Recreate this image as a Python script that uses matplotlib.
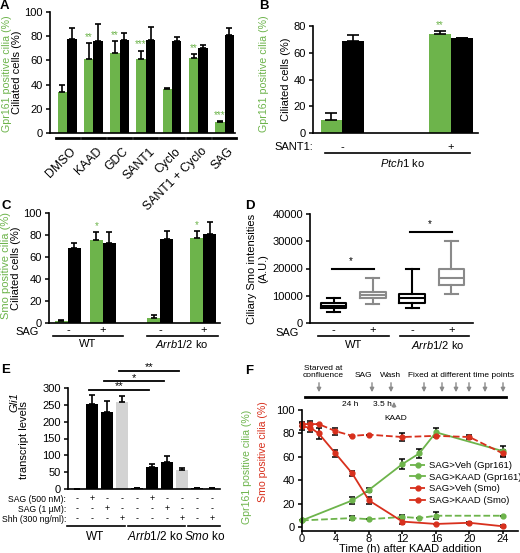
import numpy as np
import matplotlib
matplotlib.use("Agg")
import matplotlib.pyplot as plt
from matplotlib.transforms import blended_transform_factory
from matplotlib.lines import Line2D

plt.rcParams['font.family'] = ['Liberation Sans', 'DejaVu Sans']
plt.rcParams['font.size'] = 8
plt.rcParams['mathtext.fontset'] = 'custom'
plt.rcParams['mathtext.it'] = 'Liberation Sans:italic'
plt.rcParams['mathtext.rm'] = 'Liberation Sans'
plt.rcParams['axes.linewidth'] = 1.2
plt.rcParams['xtick.major.width'] = 1.1
plt.rcParams['ytick.major.width'] = 1.1
plt.rcParams['ytick.major.size'] = 3
plt.rcParams['xtick.major.size'] = 3
plt.rcParams['ytick.major.pad'] = 2

GREEN = '#6db44b'
RED = '#d8301d'
LGREY = '#d3d3d3'
GREY = '#8a8a8a'

W, H = 520, 553

# ---- panel A data
a_labels = ['DMSO', 'KAAD', 'GDC', 'SANT1', 'Cyclo', 'SANT1 + Cyclo', 'SAG']
a_gpr = [34, 61, 66, 61, 36, 62, 9]
a_gpr_err = [6, 13, 10, 7, 1, 3, 1]
a_cil = [78, 76, 77, 77, 76, 70, 81]
a_cil_err = [9, 14, 6, 11, 3, 3, 6]
a_stars = ['', '**', '**', '***', '', '**', '***']

# ---- panel B data
b_sant1 = ['-', '+']
b_gpr = [10, 74]
b_gpr_err = [5, 2]
b_cil = [69, 71]
b_cil_err = [4, 0]
b_stars = ['', '**']

# ---- panel C data
c_sag = ['-', '+', '-', '+']
c_smo = [2, 75, 5, 77]
c_smo_err = [1, 8, 2, 7]
c_cil = [68, 73, 76, 81]
c_cil_err = [5, 10, 8, 11]
c_stars = ['', '*', '', '*']

# ---- panel D data (box stats)
d_sag = ['-', '+', '-', '+']
d_whislo = [4000, 7000, 5500, 10500]
d_q1 = [5500, 9000, 7500, 14000]
d_med = [6300, 10300, 9000, 16500]
d_q3 = [7500, 11500, 10500, 20000]
d_whishi = [9000, 16500, 20000, 30000]
d_sig_y = [20000, 33500]

# ---- panel E data
e_gli1 = [0, 252, 230, 258, 2, 66, 80, 56, 3, 2]
e_gli1_err = [0, 28, 30, 18, 0, 8, 18, 5, 1, 0]
e_sag500 = ['-', '+', '-', '-', '-', '+', '-', '-', '-', '-']
e_sag1 = ['-', '-', '+', '-', '-', '-', '+', '-', '-', '-']
e_shh = ['-', '-', '-', '+', '-', '-', '-', '+', '-', '+']
e_sig = [(1, 5, 294, '**'), (2, 6, 320, '*'), (3, 7, 350, '**')]

# ---- panel F data
f_t_gpr = [0, 6, 8, 12, 14, 16, 24]
f_veh_gpr = [6, 8, 7, 9, 8, 10, 10]
f_veh_gpr_err = [0, 1.5, 0, 2, 0, 3, 0]
f_kaad_gpr = [6, 23, 32, 54, 63, 81, 65]
f_kaad_gpr_err = [0, 3, 2, 4, 4, 4, 4]
f_t_smo = [0, 1, 2, 4, 6, 8, 12, 16, 20, 24]
f_veh_smo = [88, 88, 88, 82, 78, 79, 77, 78, 77, 63]
f_veh_smo_err = [2, 3, 0, 3, 0, 0, 3, 0, 2, 3]
f_kaad_smo = [86, 85, 80, 63, 46, 23, 5, 3, 4, 1]
f_kaad_smo_err = [3, 4, 5, 3, 2, 3, 2, 0, 1, 1]

fig = plt.figure(figsize=(W / 100, H / 100), dpi=100)


def ax_px(x0, y0, x1, y1):
    ax = fig.add_axes([x0 / W, 1 - y1 / H, (x1 - x0) / W, (y1 - y0) / H])
    ax.spines['top'].set_visible(False)
    ax.spines['right'].set_visible(False)
    return ax


def ftext(x, y, s, **kw):
    fig.text(x / W, 1 - y / H, s, **kw)


def dtext(ax, x, ypx, s, **kw):
    tr = blended_transform_factory(ax.transData, fig.transFigure)
    ax.text(x, 1 - ypx / H, s, transform=tr, clip_on=False, **kw)


def dline(ax, x0, x1, ypx, lw=1.5):
    tr = blended_transform_factory(ax.transData, fig.transFigure)
    ax.add_line(Line2D([x0, x1], [1 - ypx / H, 1 - ypx / H], transform=tr,
                       color='black', lw=lw, clip_on=False))


def upper_err(ax, x, y, e, cap=3):
    ax.errorbar(x, y, yerr=[np.zeros(len(e)), e], fmt='none', ecolor='black',
                elinewidth=1.2, capsize=cap, capthick=1.2, zorder=3)


# ================= A
ax = ax_px(50, 12, 235, 133)
xa = np.arange(len(a_labels))
bw = 0.36
ax.bar(xa - bw / 2, a_gpr, bw, color=GREEN, zorder=2)
ax.bar(xa + bw / 2, a_cil, bw, color='black', zorder=2)
upper_err(ax, xa - bw / 2, a_gpr, a_gpr_err, 2.5)
upper_err(ax, xa + bw / 2, a_cil, a_cil_err, 2.5)
for i, s in enumerate(a_stars):
    if s:
        ax.text(xa[i] - bw / 2, a_gpr[i] + a_gpr_err[i] + 1, s, color=GREEN,
                ha='center', va='bottom', fontsize=7)
ax.set_xlim(-0.65, 6.4)
ax.set_ylim(0, 100)
ax.set_yticks(range(0, 101, 20))
ax.set_xticks(xa + 0.1)
ax.set_xticklabels(a_labels, rotation=45, ha='right', rotation_mode='anchor',
                   fontsize=8.8)
ax.tick_params(axis='x', length=0, pad=9)
for i in xa:
    dline(ax, i - 0.44, i + 0.44, 138, lw=2)
ax.set_ylabel('Ciliated cells (%)', labelpad=2)
ftext(7, 74, 'Gpr161 positive cilia (%)', color=GREEN, rotation=90,
      ha='center', va='center', fontsize=7.7)
ftext(0, 0, 'A', fontweight='bold', fontsize=9.5, va='top')

# ================= B
ax = ax_px(313, 26, 478, 133)
xb = np.arange(len(b_sant1))
bw = 0.2
ax.bar(xb - bw / 2, b_gpr, bw, color=GREEN, zorder=2)
ax.bar(xb + bw / 2, b_cil, bw, color='black', zorder=2)
upper_err(ax, xb - bw / 2, b_gpr, b_gpr_err, 4)
upper_err(ax, xb + bw / 2, b_cil, b_cil_err, 4)
for i, s in enumerate(b_stars):
    if s:
        ax.text(xb[i] - bw / 2, b_gpr[i] + b_gpr_err[i] + 1, s, color=GREEN,
                ha='center', va='bottom', fontsize=7)
ax.set_xlim(-0.27, 1.25)
ax.set_ylim(0, 80)
ax.set_yticks(range(0, 81, 20))
ax.set_xticks([])
ax.set_ylabel('Ciliated cells (%)', labelpad=2)
ftext(274, 147, 'SANT1:', ha='left', va='center')
for i, s in enumerate(b_sant1):
    dtext(ax, xb[i], 147, s, ha='center', va='center')
dline(ax, -0.16, 1.18, 153, lw=1.2)
dtext(ax, 0.55, 163, r'$\it{Ptch1}$ ko', ha='center', va='center')
ftext(264, 74, 'Gpr161 positive cilia (%)', color=GREEN, rotation=90,
      ha='center', va='center', fontsize=7.7)
ftext(259, 0, 'B', fontweight='bold', fontsize=9.5, va='top')

# ================= C
ax = ax_px(49, 213, 220, 323)
xc = np.array([0, 1, 2.63, 3.86])
bw = 0.37
ax.bar(xc - bw / 2, c_smo, bw, color=GREEN, zorder=2)
ax.bar(xc + bw / 2, c_cil, bw, color='black', zorder=2)
upper_err(ax, xc - bw / 2, c_smo, c_smo_err, 2.5)
upper_err(ax, xc + bw / 2, c_cil, c_cil_err, 2.5)
for i, s in enumerate(c_stars):
    if s:
        ax.text(xc[i] - bw / 2, c_smo[i] + c_smo_err[i] + 0.5, s, color=GREEN,
                ha='center', va='bottom', fontsize=7)
ax.set_xlim(-0.54, 4.34)
ax.set_ylim(0, 100)
ax.set_yticks(range(0, 101, 20))
ax.set_xticks([])
ax.set_ylabel('Ciliated cells (%)', labelpad=2)
ftext(27, 332, 'SAG', ha='center', va='center')
for i, s in enumerate(c_sag):
    dtext(ax, xc[i], 330, s, ha='center', va='center')
dline(ax, -0.43, 1.57, 336, lw=1.2)
dline(ax, 2.26, 4.29, 336, lw=1.2)
dtext(ax, 0.57, 344, 'WT', ha='center', va='center')
dtext(ax, 3.26, 344, r'$\it{Arrb1/2}$ ko', ha='center', va='center')
ftext(6, 265, 'Smo positive cilia (%)', color=GREEN, rotation=90,
      ha='center', va='center')
ftext(1, 206, 'C', fontweight='bold', fontsize=9.5, va='center')

# ================= D
ax = ax_px(310, 214, 473, 323)
xd = np.arange(len(d_sag))
stats = [dict(med=d_med[i], q1=d_q1[i], q3=d_q3[i], whislo=d_whislo[i],
              whishi=d_whishi[i], fliers=[]) for i in range(len(xd))]
for i, st in enumerate(stats):
    col = 'black' if d_sag[i] == '-' else GREY
    props = dict(color=col, linewidth=1.5)
    ax.bxp([st], positions=[xd[i]], widths=0.65, boxprops=props,
           whiskerprops=props, capprops=props, medianprops=props,
           showfliers=False, manage_ticks=False)
for k, y in enumerate(d_sig_y):
    ax.plot([xd[2 * k] - 0.05, xd[2 * k + 1] + 0.02], [y, y], color='black',
            lw=1.5, clip_on=False)
    ax.text((xd[2 * k] + xd[2 * k + 1]) / 2 - 0.05, y + 800, '*', ha='center',
            va='bottom', fontsize=7)
ax.set_xlim(-0.6, 3.55)
ax.set_ylim(0, 40000)
ax.set_yticks(range(0, 40001, 10000))
ax.set_xticks([])
ax.set_ylabel('Ciliary Smo intensities\n(A.U.)', labelpad=3)
ftext(287, 333, 'SAG', ha='center', va='center')
for i, s in enumerate(d_sag):
    dtext(ax, xd[i], 330, s, ha='center', va='center')
dline(ax, -0.4, 1.4, 336, lw=1.2)
dline(ax, 1.7, 3.45, 336, lw=1.2)
dtext(ax, 0.5, 345, 'WT', ha='center', va='center')
dtext(ax, 2.65, 345, r'$\it{Arrb1/2}$ ko', ha='center', va='center')
ftext(245, 206, 'D', fontweight='bold', fontsize=9.5, va='center')

# ================= E
ax = ax_px(68, 388, 220, 489)
xe = np.arange(len(e_gli1))
e_cols = ['black' if s == '-' else LGREY for s in e_shh]
ax.bar(xe, e_gli1, 0.8, color=e_cols, zorder=2)
upper_err(ax, xe, e_gli1, e_gli1_err, 2.5)
for i, j, y, s in e_sig:
    ax.plot([xe[i] - 0.2, xe[j] - 0.2], [y, y], color='black', lw=1.3,
            clip_on=False)
    ax.text((xe[i] + xe[j]) / 2 - 0.2, y - 4, s, ha='center', va='bottom',
            fontsize=8)
ax.set_xlim(-0.6, 9.5)
ax.set_ylim(0, 300)
ax.set_yticks(range(0, 301, 50))
ax.set_xticks([])
rows = [('SAG (500 nM):', e_sag500, 499), ('SAG (1 µM):', e_sag1, 509),
        ('Shh (300 ng/ml):', e_shh, 519)]
for lab, signs, y in rows:
    ftext(66, y, lab, ha='right', va='center', fontsize=6.2)
    for i, s in enumerate(signs):
        dtext(ax, xe[i], y, s, ha='center', va='center', fontsize=6.5)
dline(ax, -0.67, 3.2, 526, lw=1.2)
dline(ax, 3.4, 7.2, 526, lw=1.2)
dline(ax, 7.4, 9.5, 526, lw=1.2)
dtext(ax, 1.2, 537, 'WT', ha='center', va='center', fontsize=8.5)
dtext(ax, 5.2, 537, r'$\it{Arrb1/2}$ ko', ha='center', va='center',
      fontsize=8.5)
dtext(ax, 8.5, 537, r'$\it{Smo}$ ko', ha='center', va='center', fontsize=8.5)
ftext(14, 402, 'Gli1', style='italic', rotation=90, ha='center', va='center')
ftext(24, 440, 'transcript levels', rotation=90, ha='center', va='center')
ftext(1, 370, 'E', fontweight='bold', fontsize=9.5, va='center')

# ================= F
ax = ax_px(302, 410, 518, 531)
ekw = dict(capsize=2.5, elinewidth=1.1, capthick=1.1, ecolor='black',
           markersize=3.5, lw=1.3)
ax.errorbar(f_t_gpr, f_veh_gpr, yerr=f_veh_gpr_err, color=GREEN, ls='--',
            marker='o', label='SAG>Veh (Gpr161)', **ekw)
ax.errorbar(f_t_gpr, f_kaad_gpr, yerr=f_kaad_gpr_err, color=GREEN, ls='-',
            marker='o', label='SAG>KAAD (Gpr161)', **ekw)
ax.errorbar(f_t_smo, f_veh_smo, yerr=f_veh_smo_err, color=RED, ls='--',
            marker='o', label='SAG>Veh (Smo)', **ekw)
ax.errorbar(f_t_smo, f_kaad_smo, yerr=f_kaad_smo_err, color=RED, ls='-',
            marker='o', label='SAG>KAAD (Smo)', **ekw)
for ln in ax.lines:
    ln.set_clip_on(False)
ax.set_xlim(0, 25.8)
ax.set_ylim(-3, 100)
ax.set_xticks(range(0, 25, 4))
ax.set_yticks(range(0, 101, 20))
ax.tick_params(labelsize=8)
ax.tick_params(axis='x', length=2, pad=0.5)
ax.set_xlabel('Time (h) after KAAD addition', fontsize=8, labelpad=0)
handles, labels = ax.get_legend_handles_labels()
ax.legend([h[0] for h in handles], labels, loc='upper left',
          bbox_to_anchor=(0.5, 0.58), frameon=False, fontsize=6.8,
          handlelength=1.6, labelspacing=0.3, borderpad=0, handletextpad=0.4,
          borderaxespad=0)
ftext(247, 467, 'Gpr161 positive cilia (%)', color=GREEN, rotation=90,
      ha='center', va='center', fontsize=7.6)
ftext(263, 452, 'Smo positive cilia (%)', color=RED, rotation=90,
      ha='center', va='center', fontsize=7.6)
ftext(245, 371, 'F', fontweight='bold', fontsize=9.5, va='center')

# timeline schematic (not to scale)
tl_events = [('Starved at\nconfluence', 319, 323), ('SAG', 372, 363),
             ('Wash', 391, 391)]
tl_fixed = [424, 442, 456, 469, 485, 503]
axt = fig.add_axes([0, 0, 1, 1], facecolor='none')
axt.set_xlim(0, W)
axt.set_ylim(H, 0)
axt.axis('off')
axt.plot([305, 506], [397, 397], color='black', lw=2)
arrow = dict(arrowstyle='-|>', color=GREY, lw=1, mutation_scale=6)
for lab, x, xt in tl_events:
    axt.annotate('', xy=(x, 395), xytext=(x, 380), arrowprops=arrow)
    axt.text(xt, 379, lab, ha='center', va='bottom', fontsize=6,
             linespacing=0.95)
for x in tl_fixed:
    axt.annotate('', xy=(x, 395), xytext=(x, 380), arrowprops=arrow)
axt.text(461, 379, 'Fixed at different time points', ha='center',
         va='bottom', fontsize=6)
axt.annotate('', xy=(394, 399), xytext=(394, 410), arrowprops=arrow)
axt.text(350, 405, '24 h', ha='center', va='center', fontsize=6)
axt.text(382, 405, '3.5 h', ha='center', va='center', fontsize=6)
axt.text(396, 418, 'KAAD', ha='center', va='center', fontsize=6)

fig.savefig('out.png', dpi=100)
